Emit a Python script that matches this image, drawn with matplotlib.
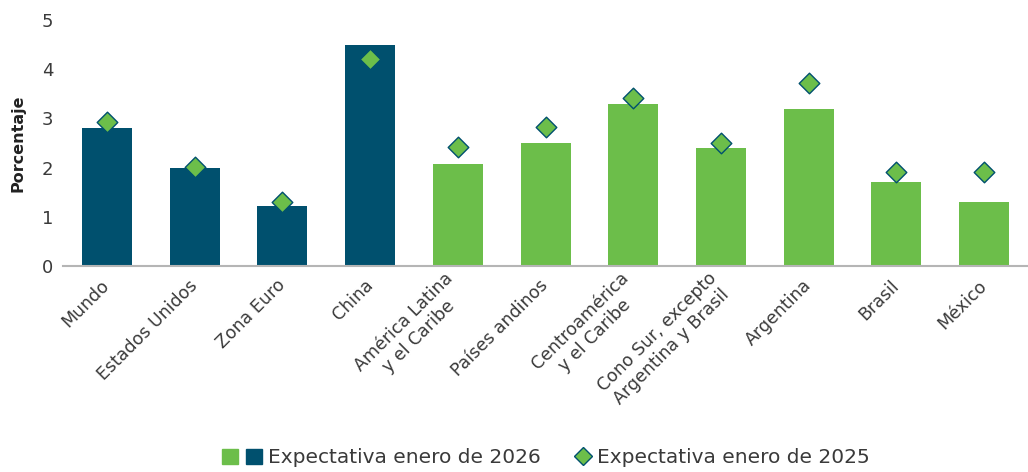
import matplotlib.pyplot as plt
from matplotlib.legend_handler import HandlerTuple
from matplotlib.patches import Patch
from matplotlib.lines import Line2D

plt.rcParams['font.family'] = ['DejaVu Sans']

# Datos
regiones = ['Mundo', 'Estados Unidos', 'Zona Euro', 'China',
            'América Latina\ny el Caribe', 'Países andinos',
            'Centroamérica\ny el Caribe', 'Cono Sur, excepto\nArgentina y Brasil',
            'Argentina', 'Brasil', 'México']
expectativa_2026 = [2.8, 2.0, 1.22, 4.5, 2.07, 2.5, 3.3, 2.4, 3.2, 1.7, 1.3]
expectativa_2025 = [2.92, 2.01, 1.3, 4.2, 2.42, 2.82, 3.41, 2.51, 3.72, 1.91, 1.91]

azul = '#00506e'
verde = '#6cbe4a'
gris_texto = '#3a3a3a'
colores = [azul] * 4 + [verde] * 7

fig = plt.figure(figsize=(10.28, 4.72), dpi=100)
ax = fig.add_axes([0.0613, 0.4364, 0.9387, 0.5212])

x = range(len(regiones))
ax.bar(x, expectativa_2026, width=0.57, color=colores, zorder=2)
ax.scatter(x, expectativa_2025, marker='D', s=110, color=verde,
           edgecolor=azul, linewidth=1.0, zorder=3)

ax.set_xlim(-0.5, 10.5)
ax.set_ylim(0, 5)
ax.set_yticks(range(6))

for lado in ['top', 'right', 'left']:
    ax.spines[lado].set_visible(False)
ax.spines['bottom'].set_color('#b5b5b5')
ax.spines['bottom'].set_linewidth(1.5)

ax.tick_params(axis='both', length=0, labelsize=12.5, colors=gris_texto)
ax.tick_params(axis='y', pad=7, labelsize=13)
ax.set_xticks(list(x))
ax.set_xticklabels(regiones, rotation=45, ha='right', va='center',
                   rotation_mode='anchor', multialignment='center')
ax.tick_params(axis='x', pad=12)

ax.set_ylabel('Porcentaje', fontsize=11.5, fontweight='bold', color='#222222',
              labelpad=12)

# Leyenda: dos cuadros para las barras, rombo pegado al texto
h_barras = (Patch(color=verde), Patch(color=azul))
h_rombo = (Line2D([], [], linestyle='none'),
           Line2D([], [], marker='D', linestyle='none', markersize=9,
                  markerfacecolor=verde, markeredgecolor=azul))
fig.legend([h_barras, h_rombo],
           ['Expectativa enero de 2026', 'Expectativa enero de 2025'],
           handler_map={tuple: HandlerTuple(ndivide=None, pad=0.4)},
           loc='center', bbox_to_anchor=(0.531, 0.03), ncol=2, frameon=False,
           fontsize=14.5, labelcolor=gris_texto, handlelength=2.0,
           handleheight=0.8, handletextpad=0.3, columnspacing=0.5)

fig.savefig('out.png', dpi=100)
